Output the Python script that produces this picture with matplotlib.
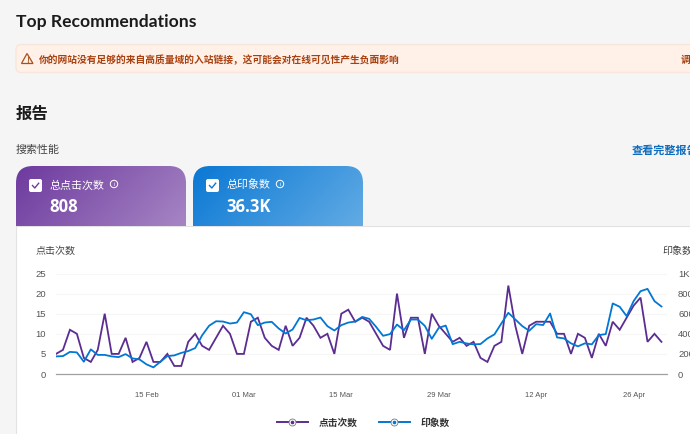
import numpy as np
import pandas as pd
import matplotlib
matplotlib.use("Agg")
import matplotlib.pyplot as plt
import matplotlib.dates as mdates
from matplotlib.patches import FancyBboxPatch, Polygon, Rectangle, Circle

plt.rcParams['font.family'] = ['Noto Sans CJK SC', 'DejaVu Sans']

# data
clicks = [5, 6, 11, 10, 4, 3, 6, 15, 5, 5,
          9, 3, 4, 8, 3, 3, 5, 2, 2, 8,
          10, 7, 6, 9, 12, 10, 5, 5, 13, 14,
          9, 7, 6, 12, 7, 9, 14, 12, 9, 10,
          5, 15, 16, 13, 14, 13, 10, 7, 6, 20,
          9, 14, 14, 5, 15, 12, 10, 8, 9, 7,
          8, 4, 3, 7, 8, 22, 12, 5, 12, 13,
          13, 13, 10, 10, 5, 10, 9, 4, 10, 7,
          13, 11, 14, 17, 19, 8, 10, 8]
impressions = [175, 178, 220, 215, 122, 245, 190, 190, 175, 168,
               198, 155, 145, 96, 66, 122, 178, 185, 210, 228,
               258, 385, 480, 525, 522, 502, 512, 615, 595, 486,
               512, 519, 453, 403, 443, 558, 535, 542, 562, 476,
               433, 486, 512, 522, 568, 549, 469, 380, 397, 492,
               436, 542, 542, 479, 350, 459, 482, 297, 320, 304,
               295, 298, 354, 394, 503, 609, 543, 477, 430, 496,
               487, 602, 364, 354, 305, 275, 305, 295, 387, 397,
               702, 669, 576, 725, 824, 847, 725, 672]
start_date = "2025-02-02"
date_ticks = ["2025-02-15", "2025-03-01", "2025-03-15", "2025-03-29", "2025-04-12", "2025-04-26"]
left_ticks = [0, 5, 10, 15, 20, 25]
right_ticks = [0, 200, 400, 600, 800, 1000]
right_labels = ["0", "200", "400", "600", "800", "1K"]

PURPLE = "#5c2d91"
BLUE = "#0078d4"
W, H = 690, 434

dates = pd.date_range(start_date, periods=len(clicks), freq="D")

fig = plt.figure(figsize=(W / 100, H / 100), dpi=100, facecolor="#f5f5f5")

# page chrome, in pixel coordinates
page = fig.add_axes([0, 0, 1, 1])
page.set_xlim(0, W)
page.set_ylim(H, 0)
page.axis("off")

page.text(15.5, 22.5, "Top Recommendations", fontsize=12.6, fontweight="bold",
          family="Lato", color="#1b1b1b", va="center")

page.add_patch(FancyBboxPatch((16, 44.5), 720, 28, boxstyle="round,pad=0,rounding_size=5",
                              fc="#fff0e8", ec="#f8e6dc", lw=1))
page.add_patch(Polygon([(27, 53.5), (33, 63.5), (21.5, 63.5)], closed=True, fc="none", ec="#a8501c", lw=0.9))
page.text(27.2, 60.3, "!", fontsize=5.5, color="#a8501c", ha="center", va="center", fontweight="bold")
page.text(39, 59.5, "你的网站没有足够的来自高质量域的入站链接，这可能会对在线可见性产生负面影响",
          fontsize=7, fontweight="bold", color="#a8410f", va="center")
page.text(681, 59.5, "调整", fontsize=7, fontweight="bold", color="#a8410f", va="center")

page.text(15.5, 114, "报告", fontsize=11.8, fontweight="bold", color="#1b1b1b", va="center")
page.text(15.5, 150, "搜索性能", fontsize=7.9, color="#444444", va="center")
page.text(632, 150, "查看完整报告", fontsize=8, fontweight="bold", color="#0f6cbd", va="center")

# white panel behind the chart
page.add_patch(Rectangle((16, 226), 700, 230, fc="white", ec="#e3e3e3", lw=0.8, zorder=1))


def gradient_card(x0, c0, c1, title, value, info_x):
    x1 = x0 + 170
    rgb0 = np.array(matplotlib.colors.to_rgb(c0))
    rgb1 = np.array(matplotlib.colors.to_rgb(c1))
    gx, gy = np.meshgrid(np.linspace(0, 1, 170), np.linspace(0, 1, 60))
    t = (0.75 * gx + 0.25 * gy)[..., None]
    img = page.imshow(rgb0 + (rgb1 - rgb0) * t, extent=(x0, x1, 226, 166), aspect="auto", zorder=2)
    clip = FancyBboxPatch((x0, 166), 170, 100, boxstyle="round,pad=0,rounding_size=17",
                          fc="none", ec="none", transform=page.transData)
    page.add_patch(clip)
    img.set_clip_path(clip)
    page.add_patch(FancyBboxPatch((x0 + 13, 179), 13, 13, boxstyle="round,pad=0,rounding_size=2",
                                  fc="white", ec="none", zorder=3))
    page.plot([x0 + 16.5, x0 + 18.8, x0 + 22.7], [185.5, 188, 183.2], color=c0, lw=1, zorder=4)
    page.text(x0 + 33.5, 185, title, fontsize=7.9, color="white", va="center", zorder=4)
    page.text(x0 + 33, 206.5, value, fontsize=12, fontweight="bold", family="Open Sans",
              color="white", va="center", zorder=4)
    page.add_patch(Circle((info_x, 184), 3.7, fc="none", ec="white", lw=0.7, zorder=4))
    page.text(info_x, 184, "i", fontsize=4, color="white", ha="center", va="center", zorder=4)


gradient_card(16, "#6d3a9e", "#a685c4", "总点击次数", "808", 114)
gradient_card(193, "#0a78d4", "#62abe4", "总印象数", "36.3K", 280)
page.set_xlim(0, W)
page.set_ylim(H, 0)

page.text(36, 250.5, "点击次数", fontsize=7.2, color="#444444", va="center", fontweight="medium", zorder=4)
page.text(662, 250.5, "印象数", fontsize=7.2, color="#444444", va="center", fontweight="medium", zorder=4)

# legend
page.plot([277, 308], [422, 422], color=PURPLE, lw=1.4, zorder=4)
page.plot([292], [422], "o", ms=5, mfc="white", mec="#777777", mew=0.6, zorder=5)
page.plot([292], [422], "o", ms=1.6, color=PURPLE, zorder=6)
page.text(319, 423, "点击次数", fontsize=7, fontweight="bold", color="#333333", va="center", zorder=4)
page.plot([379, 410], [422, 422], color=BLUE, lw=1.4, zorder=4)
page.plot([394], [422], "o", ms=5, mfc="white", mec="#777777", mew=0.6, zorder=5)
page.plot([394], [422], "o", ms=1.6, color=BLUE, zorder=6)
page.text(421, 423, "印象数", fontsize=7, fontweight="bold", color="#333333", va="center", zorder=4)

# chart, placed so the baseline sits at y=374 and the 25 line at y=273.5
ax = fig.add_axes([56 / W, 1 - 374 / H, (667 - 56) / W, (374 - 273.5) / H])
ax.patch.set_alpha(0)
ax.plot(dates, clicks, color=PURPLE, lw=1.3, solid_joinstyle="miter")
ax.set_xlim(dates[0], dates[0] + pd.Timedelta(days=87.8))
ax.set_ylim(0, 25)
ax.set_yticks(left_ticks)
ax.set_xticks(pd.to_datetime(date_ticks))
ax.xaxis.set_major_formatter(mdates.DateFormatter("%d %b"))
ax.grid(axis="y", color="#f6f6f6", lw=0.8)
ax.set_axisbelow(True)
for s in ["top", "left", "right"]:
    ax.spines[s].set_visible(False)
ax.spines["bottom"].set_color("#a0a0a0")
ax.spines["bottom"].set_linewidth(0.9)
ax.tick_params(axis="y", length=0, pad=7, labelsize=6.8, labelcolor="#555555")
ax.tick_params(axis="x", length=0, pad=13, labelsize=5.5, labelcolor="#555555")
for lab in ax.get_xticklabels() + ax.get_yticklabels():
    lab.set_family("Liberation Sans")

ax2 = ax.twinx()
ax2.plot(dates, impressions, color=BLUE, lw=1.3)
ax2.set_ylim(0, 1000)
ax2.set_yticks(right_ticks)
ax2.set_yticklabels(right_labels)
for s in ["top", "left", "right", "bottom"]:
    ax2.spines[s].set_visible(False)
ax2.tick_params(axis="y", length=0, pad=8, labelsize=6.8, labelcolor="#555555")
for lab in ax2.get_yticklabels():
    lab.set_family("Liberation Sans")

fig.savefig("out.png", dpi=100, facecolor=fig.get_facecolor())
